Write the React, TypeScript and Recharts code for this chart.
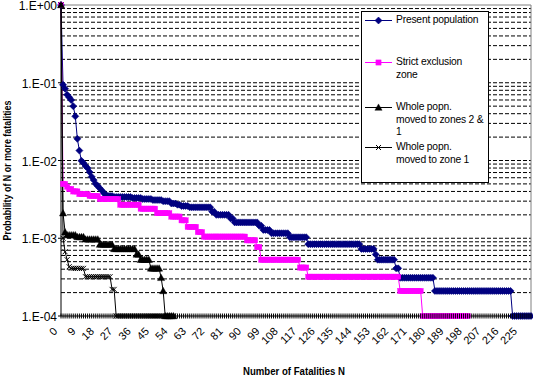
import React from 'react';
import { LineChart, Line, XAxis, YAxis, ReferenceLine, Legend } from 'recharts';

// ---------- data ----------
const MAX_N = 230;
const fatalityN: number[] = Array.from({ length: MAX_N + 1 }, (_, i) => i);

// step breakpoints: [first N of the step, probability of N or more fatalities]
const presentSteps: [number, number][] = [
  [0, 1], [1, 0.094], [2, 0.084], [3, 0.07], [4, 0.065], [5, 0.06], [6, 0.05], [7, 0.037],
  [8, 0.019], [9, 0.0134], [10, 0.0099], [11, 0.0093], [12, 0.0085], [13, 0.008], [14, 0.0071],
  [15, 0.0062], [16, 0.0056], [17, 0.005], [18, 0.0047], [19, 0.0044], [20, 0.0041], [21, 0.0038],
  [22, 0.0036], [23, 0.0035], [26, 0.0034], [35, 0.0033], [40, 0.0032], [45, 0.0031], [50, 0.003],
  [54, 0.0028], [57, 0.0027], [59, 0.0026], [63, 0.0025], [74, 0.0022], [76, 0.002], [83, 0.0018],
  [85, 0.0016], [97, 0.00145], [99, 0.00128], [103, 0.00116], [112, 0.00103], [121, 0.00084],
  [147, 0.00073], [154, 0.00062], [155, 0.00053], [164, 0.00041], [166, 0.00031], [183, 0.00021],
  [221, 0.0001],
];
const presentLastN = 230;

const strictSteps: [number, number][] = [
  [0, 1], [1, 0.005], [3, 0.0046], [4, 0.0043], [6, 0.004], [9, 0.0037], [14, 0.0035], [19, 0.0032],
  [29, 0.0027], [39, 0.0024], [47, 0.0021], [54, 0.0019], [59, 0.0017], [62, 0.0014], [67, 0.0012],
  [70, 0.00105], [91, 0.00094], [96, 0.00077], [98, 0.00053], [117, 0.00042], [121, 0.00032],
  [166, 0.00021], [177, 0.0001],
];
const strictLastN = 199;

const zones21Steps: [number, number][] = [
  [0, 1], [1, 0.0021], [2, 0.0012], [3, 0.0011], [8, 0.00104], [12, 0.00097], [19, 0.00083],
  [26, 0.00073], [37, 0.00062], [39, 0.00053], [44, 0.00041], [49, 0.00031], [50, 0.00021], [51, 0.0001],
];
const zones21LastN = 55;

const zone1Steps: [number, number][] = [
  [0, 1], [1, 0.001], [2, 0.00067], [3, 0.00053], [4, 0.00043], [5, 0.00041], [12, 0.00032],
  [25, 0.00022], [27, 0.0001],
];
const zone1LastN = 55;

const seriesNames = [
  'Present population',
  'Strict exclusion zone',
  'Whole popn. moved to zones 2 & 1',
  'Whole popn. moved to zone 1',
];
const legendLines: string[][] = [
  ['Present population'],
  ['Strict exclusion', 'zone'],
  ['Whole popn.', 'moved to zones 2 &', '1'],
  ['Whole popn.', 'moved to zone 1'],
];

const xTickLabels = [0, 9, 18, 27, 36, 45, 54, 63, 72, 81, 90, 99, 108, 117, 126, 135, 144, 153, 162, 171, 180, 189, 198, 207, 216, 225];
const yTicks = [0.0001, 0.001, 0.01, 0.1, 1];
const gridValues = [
  0.0002, 0.0003, 0.0004, 0.0005, 0.0006, 0.0007, 0.0008, 0.0009, 0.001,
  0.002, 0.003, 0.004, 0.005, 0.006, 0.007, 0.008, 0.009, 0.01,
  0.02, 0.03, 0.04, 0.05, 0.06, 0.07, 0.08, 0.09, 0.1,
  0.2, 0.3, 0.4, 0.5, 0.6, 0.7, 0.8, 0.9,
];

function valueAt(steps: [number, number][], lastN: number, n: number): number | null {
  if (n > lastN) return null;
  let v: number | null = null;
  for (const [s, p] of steps) if (s <= n) v = p;
  return v;
}

const data = fatalityN.map((n) => ({
  n,
  present: valueAt(presentSteps, presentLastN, n),
  strict: valueAt(strictSteps, strictLastN, n),
  zones21: valueAt(zones21Steps, zones21LastN, n),
  zone1: valueAt(zone1Steps, zone1LastN, n),
}));

// ---------- styles ----------
const FONT = '"Liberation Sans", Arial, sans-serif';
const NAVY = '#000080';
const MAGENTA = '#FF00FF';

function Marker({ kind, cx, cy }: { kind: string; cx: number; cy: number }) {
  if (kind === 'diamond') {
    return <polygon points={`${cx},${cy - 3.5} ${cx + 3.5},${cy} ${cx},${cy + 3.5} ${cx - 3.5},${cy}`} fill={NAVY} stroke={NAVY} strokeWidth={0.6} />;
  }
  if (kind === 'square') {
    return <rect x={cx - 2.6} y={cy - 2.6} width={5.2} height={5.2} fill={MAGENTA} stroke={MAGENTA} strokeWidth={0.4} />;
  }
  if (kind === 'triangle') {
    return <polygon points={`${cx},${cy - 3.6} ${cx + 3.6},${cy + 2.8} ${cx - 3.6},${cy + 2.8}`} fill="#000" stroke="#000" strokeWidth={0.4} />;
  }
  return (
    <g stroke="#000" strokeWidth={1}>
      <line x1={cx - 2.5} y1={cy - 2.5} x2={cx + 2.5} y2={cy + 2.5} />
      <line x1={cx - 2.5} y1={cy + 2.5} x2={cx + 2.5} y2={cy - 2.5} />
    </g>
  );
}

const makeDot = (kind: string) => (props: any) => {
  const { cx, cy, index, value } = props;
  if (cx == null || cy == null || value == null || Number.isNaN(cy)) return <g key={`${kind}-${index}`} />;
  return (
    <g key={`${kind}-${index}`}>
      <Marker kind={kind} cx={cx} cy={cy} />
    </g>
  );
};

const XTick = (props: any) => {
  const { x, y, payload } = props;
  const v = payload?.value;
  const showLabel = xTickLabels.includes(v);
  return (
    <g>
      <line x1={x} x2={x} y1={y - 2.5} y2={y + 2.5} stroke="#000" strokeWidth={1} />
      {showLabel && (
        <text
          transform={`translate(${x - 3},${y + 16}) rotate(-45)`}
          textAnchor="end"
          fontSize={11}
          fontFamily={FONT}
          fill="#000"
        >
          {v}
        </text>
      )}
    </g>
  );
};

const formatY = (v: number) => {
  const e = Math.round(Math.log10(v));
  const sign = e >= 0 ? '+' : '-';
  return `1.E${sign}${String(Math.abs(e)).padStart(2, '0')}`;
};

const YTick = (props: any) => {
  const { x, y, payload } = props;
  return (
    <text x={x} y={y} dy="0.42em" textAnchor="end" fontSize={12} fontFamily={FONT} fill="#000">
      {formatY(payload.value)}
    </text>
  );
};

const legendKinds = ['diamond', 'square', 'triangle', 'cross'];
const legendColors = [NAVY, MAGENTA, '#000', '#000'];
const legendTops = [2, 44, 89, 129];

const LegendBox = () => (
  <div
    style={{
      position: 'relative',
      width: 126,
      height: 170,
      border: '1px solid #000',
      background: '#fff',
      fontFamily: FONT,
      fontSize: '10.3px',
      letterSpacing: '-0.2px',
      color: '#000',
      overflow: 'hidden',
    }}
  >
    {seriesNames.map((name, i) => (
      <div key={name} title={name} style={{ position: 'absolute', left: 0, top: legendTops[i], width: 126 }}>
        <svg width={30} height={13} style={{ position: 'absolute', left: 3, top: 0 }}>
          <line x1={0} x2={27} y1={6.5} y2={6.5} stroke={legendColors[i]} strokeWidth={1} />
          <Marker kind={legendKinds[i]} cx={13.5} cy={6.5} />
        </svg>
        <div style={{ position: 'absolute', left: 34, top: 0, lineHeight: '12.7px', whiteSpace: 'nowrap', fontSize: '10.3px' }}>
          {legendLines[i].map((l, j) => (
            <div key={j}>{l}</div>
          ))}
        </div>
      </div>
    ))}
  </div>
);

export default function App() {
  return (
    <div style={{ position: 'absolute', left: 0, top: 0, width: 533, height: 376, background: '#fff' }}>
      <LineChart width={533} height={376} data={data} margin={{ top: 5, right: 2, bottom: 0, left: 0 }}>
        <XAxis
          dataKey="n"
          interval={0}
          height={60}
          tickLine={false}
          tickSize={0}
          tickMargin={0}
          axisLine={{ stroke: '#000', strokeWidth: 1 }}
          tick={<XTick />}
          label={{
            content: (p: any) => {
              const vb = p.viewBox || {};
              return (
                <text
                  x={vb.x + vb.width / 2 - 2}
                  y={vb.y + vb.height - 1}
                  textAnchor="middle"
                  fontSize={11}
                  fontWeight="bold"
                  fontFamily={FONT}
                  textLength={102}
                  lengthAdjust="spacingAndGlyphs"
                  fill="#000"
                >
                  Number of Fatalities N
                </text>
              );
            },
          }}
        />
        <YAxis
          type="number"
          scale="log"
          domain={[0.0001, 1]}
          ticks={yTicks}
          interval={0}
          width={61}
          tickSize={3}
          tickMargin={1}
          tick={<YTick />}
          tickLine={{ stroke: '#000' }}
          axisLine={{ stroke: '#000', strokeWidth: 1 }}
          label={{
            content: (p: any) => {
              const vb = p.viewBox || {};
              const cx = 11;
              const cy = vb.y + vb.height / 2 + 10;
              return (
                <text
                  transform={`translate(${cx},${cy}) rotate(-90)`}
                  textAnchor="middle"
                  fontSize={11}
                  fontWeight="bold"
                  fontFamily={FONT}
                  textLength={140}
                  lengthAdjust="spacingAndGlyphs"
                  fill="#000"
                >
                  Probability of N or more fatalities
                </text>
              );
            },
          }}
        />
        {gridValues.map((g) => (
          <ReferenceLine key={g} y={g} stroke="#000" strokeWidth={1} strokeDasharray="4 2" />
        ))}
        <ReferenceLine y={1} stroke="#808080" strokeWidth={1} />
        <ReferenceLine x={MAX_N} stroke="#808080" strokeWidth={1} />
        <Legend
          layout="vertical"
          align="center"
          verticalAlign="middle"
          wrapperStyle={{ left: 361, top: 11, width: 128, height: 172 }}
          content={() => <LegendBox />}
        />
        <Line dataKey="present" name={seriesNames[0]} stroke={NAVY} strokeWidth={1} dot={makeDot('diamond')} isAnimationActive={false} connectNulls={false} />
        <Line dataKey="strict" name={seriesNames[1]} stroke={MAGENTA} strokeWidth={1} dot={makeDot('square')} isAnimationActive={false} connectNulls={false} />
        <Line dataKey="zones21" name={seriesNames[2]} stroke="#000" strokeWidth={1} dot={makeDot('triangle')} isAnimationActive={false} connectNulls={false} />
        <Line dataKey="zone1" name={seriesNames[3]} stroke="#000" strokeWidth={1} dot={makeDot('cross')} isAnimationActive={false} connectNulls={false} />
      </LineChart>
    </div>
  );
}
